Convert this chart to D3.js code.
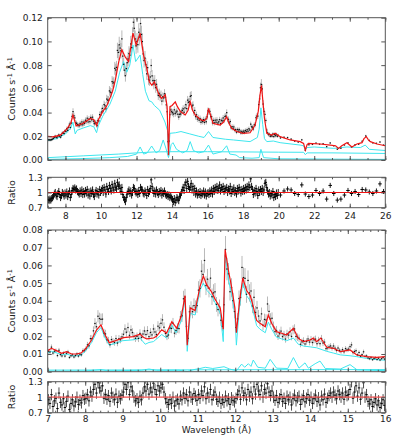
<!DOCTYPE html>
<html>
<head>
<meta charset="utf-8">
<script src="https://cdn.jsdelivr.net/npm/d3@7"></script>
<style>
  body { margin: 0; background: #fff; }
  text { font-family: "DejaVu Sans", sans-serif; fill: #222; }
</style>
</head>
<body>
<svg id="chart" width="399" height="443"></svg>
<script>
// ---- upper spectrum (7-26 A) : model knots [wavelength, counts/s/A]
const model1 = [[7.0,0.020],[7.3,0.0195],[7.7,0.021],[8.07,0.026],[8.3,0.031],[8.42,0.038],[8.6,0.0287],[9.0,0.031],[9.2,0.033],[9.4,0.035],[9.6,0.034],[9.76,0.029],[9.85,0.034],[10.1,0.041],[10.3,0.045],[10.5,0.052],[10.65,0.058],[10.8,0.067],[11.0,0.083],[11.17,0.093],[11.36,0.087],[11.55,0.083],[11.8,0.107],[11.98,0.097],[12.2,0.107],[12.4,0.088],[12.58,0.077],[12.72,0.066],[12.86,0.063],[13.0,0.066],[13.24,0.056],[13.4,0.052],[13.5,0.053],[13.62,0.055],[13.72,0.045],[13.8,0.004],[13.88,0.045],[14.0,0.046],[14.18,0.049],[14.3,0.045],[14.46,0.041],[14.74,0.038],[14.9,0.042],[15.02,0.049],[15.15,0.042],[15.3,0.038],[15.6,0.034],[15.8,0.033],[15.95,0.035],[16.05,0.0436],[16.3,0.031],[16.7,0.0295],[16.9,0.032],[17.07,0.0365],[17.2,0.031],[17.36,0.0267],[17.64,0.024],[18.0,0.0225],[18.39,0.023],[18.67,0.0295],[18.85,0.041],[18.95,0.055],[19.03,0.063],[19.12,0.048],[19.2,0.035],[19.33,0.0225],[19.61,0.021],[19.8,0.0225],[20.08,0.0197],[20.65,0.0169],[21.21,0.0155],[21.4,0.014],[21.5,0.0084],[21.6,0.013],[21.68,0.014],[22.34,0.0135],[22.9,0.0126],[23.2,0.012],[23.37,0.0098],[23.55,0.012],[23.84,0.0146],[24.12,0.011],[24.4,0.0135],[24.69,0.0146],[24.8,0.018],[24.93,0.0197],[25.05,0.017],[25.16,0.0155],[25.53,0.0135],[26.0,0.012]];
const compA1 = [[7.0,0.0165],[7.5,0.018],[8.0,0.022],[8.3,0.027],[8.42,0.032],[8.55,0.022],[8.65,0.025],[9.0,0.027],[9.4,0.029],[9.6,0.028],[9.75,0.023],[9.85,0.029],[10.1,0.037],[10.5,0.047],[10.8,0.058],[11.05,0.074],[11.27,0.083],[11.45,0.074],[11.62,0.080],[11.8,0.097],[11.95,0.083],[12.2,0.0885],[12.35,0.072],[12.5,0.058],[12.7,0.050],[12.86,0.049],[13.0,0.046],[13.3,0.042],[13.6,0.032],[13.74,0.025],[13.8,0.006],[13.88,0.0225],[14.2,0.023],[14.5,0.024],[15.0,0.022],[15.5,0.020],[15.8,0.019],[16.05,0.024],[16.3,0.019],[17.0,0.0175],[17.45,0.0169],[18.39,0.0155],[18.8,0.019],[18.9,0.026],[19.0,0.044],[19.1,0.030],[19.2,0.018],[19.33,0.0155],[19.7,0.016],[20.08,0.0146],[21.2,0.0126],[21.4,0.012],[21.5,0.0084],[21.6,0.0105],[22.0,0.011],[23.1,0.0098],[23.84,0.011],[24.6,0.0105],[24.87,0.0126],[25.1,0.009],[26.0,0.008]];
const compB1 = [[7.0,0.0005],[9.0,0.0012],[10.5,0.002],[11.5,0.003],[12.0,0.005],[12.2,0.011],[12.4,0.005],[12.6,0.006],[12.85,0.0118],[13.1,0.006],[13.3,0.008],[13.5,0.0169],[13.65,0.010],[13.8,0.002],[13.95,0.013],[14.05,0.0146],[14.25,0.009],[14.6,0.006],[14.85,0.008],[15.02,0.0155],[15.2,0.008],[15.5,0.006],[15.8,0.007],[16.05,0.0126],[16.3,0.005],[16.8,0.007],[17.07,0.012],[17.25,0.005],[17.6,0.0042],[17.8,0.002],[18.5,0.0015],[18.9,0.002],[19.0,0.009],[19.15,0.002],[20.0,0.001],[26.0,0.0005]];
const compC1 = [[7.0,0.002],[9.0,0.0035],[11.0,0.005],[12.0,0.006],[13.0,0.0068],[14.0,0.007],[16.0,0.007],[18.0,0.0068],[20.0,0.0066],[21.4,0.0065],[21.5,0.0045],[21.6,0.006],[23.0,0.006],[26.0,0.0055]];

// data/model ratio, fine bins 7.00-20.00 (0.05 A) then coarse bins 20.0-26.0 (0.2 A)
const ratio1Fine = [
  0.86,0.84,0.87,0.85,0.88,0.90,0.93,0.97,1.00,0.95,0.92,0.98,1.02,0.96,0.90,0.94,1.00,0.97,0.93,0.99,
  0.95,1.01,0.92,0.97,1.03,0.90,0.96,1.04,1.08,1.06,1.09,1.05,1.07,1.02,1.00,0.97,1.03,0.98,1.05,0.96,
  1.02,0.97,1.04,0.99,1.06,0.95,1.01,0.93,1.03,0.98,1.05,0.96,0.92,1.00,1.04,0.97,1.02,0.95,1.06,1.00,
  1.04,1.08,1.00,1.10,1.05,0.97,1.12,1.06,1.02,1.14,1.08,1.03,1.16,1.09,1.05,1.18,1.10,1.07,1.20,1.12,
  1.15,1.08,1.02,1.10,0.96,0.90,0.86,0.82,0.90,0.97,1.02,1.05,0.98,1.03,0.95,1.00,1.10,1.08,1.02,0.99,
  1.01,0.96,1.04,0.98,1.10,1.06,1.05,0.99,0.97,1.03,1.00,0.94,1.06,0.98,1.02,1.08,1.25,1.12,1.04,0.98,
  1.03,0.97,1.05,1.00,0.96,1.02,0.99,1.04,0.95,1.01,0.98,1.03,0.97,0.94,0.96,0.92,0.95,0.90,0.93,0.89,
  0.86,0.82,0.88,0.80,0.85,0.90,0.87,0.84,0.92,0.95,1.00,1.05,1.10,1.04,1.15,1.20,1.08,1.22,1.12,1.06,
  1.10,1.18,1.05,1.12,1.00,1.08,0.97,1.03,0.95,1.00,0.96,1.02,0.94,0.99,0.97,1.03,0.95,1.01,0.93,0.98,
  1.00,0.96,1.03,0.98,1.05,0.97,1.08,1.02,1.10,1.05,1.12,1.04,1.08,1.15,1.03,1.10,1.06,1.12,1.02,1.08,
  1.05,1.10,1.00,1.07,1.03,1.12,0.98,1.06,1.02,1.09,1.00,1.04,0.97,1.08,1.03,1.10,1.05,0.99,1.06,1.02,
  1.08,1.03,1.10,1.05,1.12,1.06,1.15,1.10,1.27,1.12,1.06,0.96,1.04,0.99,1.08,1.02,0.94,1.05,1.00,1.06,
  1.02,1.08,1.00,1.05,1.18,1.20,1.10,1.03,0.97,1.00,0.93,0.98,0.95,1.02,0.90,0.96,0.92,0.99,0.94,1.00];
const ratio1Coarse = [0.95,1.03,1.07,1.05,0.98,0.96,1.15,0.97,0.92,0.95,1.04,0.98,1.03,0.87,1.14,0.98,0.85,0.87,0.95,1.04,0.98,1.02,0.96,1.06,1.05,1.01,0.98,1.03,1.17,1.02];

// ---- lower spectrum (7-16 A)
const model3 = [[7.0,0.0119],[7.1,0.0132],[7.24,0.0119],[7.37,0.0104],[7.5,0.0113],[7.64,0.0100],[7.77,0.0100],[7.9,0.0107],[8.02,0.0132],[8.17,0.0179],[8.3,0.0235],[8.42,0.0264],[8.53,0.0207],[8.64,0.0164],[8.8,0.0175],[9.02,0.0192],[9.28,0.0198],[9.46,0.0212],[9.55,0.0195],[9.64,0.0185],[9.82,0.019],[9.9,0.020],[10.04,0.0237],[10.17,0.0218],[10.31,0.0282],[10.44,0.0245],[10.57,0.032],[10.66,0.043],[10.72,0.015],[10.8,0.036],[10.93,0.0345],[11.06,0.048],[11.15,0.054],[11.24,0.049],[11.37,0.045],[11.46,0.041],[11.6,0.036],[11.68,0.024],[11.73,0.069],[11.82,0.057],[11.9,0.048],[11.99,0.036],[12.03,0.022],[12.11,0.039],[12.2,0.053],[12.3,0.046],[12.4,0.043],[12.48,0.0367],[12.57,0.029],[12.66,0.0273],[12.8,0.0254],[12.88,0.032],[12.97,0.0273],[13.1,0.0226],[13.24,0.0217],[13.37,0.0207],[13.55,0.0245],[13.68,0.0188],[13.82,0.017],[14.0,0.0179],[14.08,0.019],[14.17,0.017],[14.28,0.019],[14.44,0.0138],[14.62,0.0132],[14.8,0.0113],[15.06,0.0123],[15.24,0.0094],[15.5,0.0085],[15.77,0.0081],[16.0,0.0085]];
const compA3 = [[7.0,0.0105],[7.1,0.0115],[7.25,0.0105],[7.4,0.0095],[7.5,0.010],[7.65,0.009],[7.8,0.009],[7.9,0.0095],[8.02,0.012],[8.17,0.0165],[8.3,0.022],[8.42,0.025],[8.53,0.019],[8.64,0.015],[8.8,0.016],[9.0,0.0175],[9.28,0.018],[9.46,0.019],[9.6,0.0155],[9.7,0.0165],[9.82,0.017],[10.04,0.021],[10.17,0.019],[10.3,0.0265],[10.42,0.022],[10.57,0.029],[10.66,0.041],[10.72,0.0115],[10.8,0.033],[10.93,0.032],[11.06,0.046],[11.15,0.050],[11.24,0.046],[11.37,0.043],[11.46,0.039],[11.6,0.033],[11.68,0.017],[11.73,0.066],[11.82,0.052],[11.9,0.044],[11.99,0.032],[12.03,0.015],[12.11,0.036],[12.2,0.050],[12.3,0.043],[12.4,0.040],[12.48,0.034],[12.57,0.026],[12.66,0.024],[12.8,0.022],[12.88,0.028],[12.97,0.024],[13.1,0.0195],[13.24,0.0185],[13.37,0.0175],[13.55,0.019],[13.68,0.0155],[13.82,0.0145],[14.0,0.014],[14.17,0.0135],[14.44,0.0115],[14.62,0.0105],[14.8,0.0095],[15.06,0.009],[15.24,0.0085],[15.5,0.0075],[15.77,0.0068],[16.0,0.0065]];
const compB3 = [[7.0,0.0003],[8.0,0.0004],[8.42,0.0012],[8.6,0.0005],[9.5,0.0008],[9.7,0.0015],[9.9,0.0008],[10.5,0.0008],[10.72,0.0002],[10.9,0.0012],[11.06,0.0018],[11.2,0.0025],[11.4,0.0018],[11.7,0.0028],[11.85,0.0015],[12.03,0.0005],[12.17,0.0043],[12.25,0.0025],[12.35,0.0045],[12.42,0.003],[12.48,0.0066],[12.6,0.0025],[12.8,0.002],[12.93,0.007],[13.1,0.002],[13.4,0.0018],[13.55,0.008],[13.7,0.002],[13.86,0.005],[13.95,0.002],[14.13,0.0045],[14.26,0.006],[14.4,0.0018],[14.8,0.0015],[15.06,0.004],[15.25,0.001],[16.0,0.0006]];
const compC3 = [[7.0,0.0009],[12.0,0.0011],[16.0,0.0012]];

// data/model ratio, 0.04 A bins 7.00-16.00
const ratio3 = [
  0.95,0.88,1.05,0.82,0.93,0.98,0.78,1.08,0.90,0.85,0.97,0.80,0.92,1.02,0.76,0.88,0.95,0.83,0.91,1.00,0.86,0.94,0.89,1.03,0.96,
  0.98,1.05,0.93,1.10,1.02,1.15,1.25,1.08,1.28,1.18,1.12,1.22,0.98,1.05,0.96,1.03,0.92,1.08,1.00,0.95,1.06,0.90,1.02,0.97,1.04,
  1.10,1.25,1.15,1.28,1.05,1.20,1.12,1.00,0.93,0.97,0.90,1.02,0.95,1.08,1.20,1.12,1.25,1.06,1.18,1.10,1.27,1.15,1.05,1.22,1.12,
  1.18,1.25,1.10,0.97,0.90,0.86,0.95,0.88,1.00,0.83,0.93,0.96,0.87,1.02,0.95,1.08,0.98,1.05,0.93,1.10,1.00,0.96,1.07,1.02,0.94,
  1.05,0.98,1.12,1.03,1.20,0.97,1.08,1.00,1.15,0.95,1.04,1.10,0.96,0.92,1.00,0.88,0.95,0.90,1.02,0.93,0.97,0.86,0.99,0.94,0.91,
  0.98,1.05,1.12,0.96,1.18,1.03,1.08,0.95,1.15,1.02,1.10,0.97,1.20,1.06,1.25,1.12,1.05,1.22,1.00,1.15,1.08,1.26,1.10,1.03,1.12,
  1.00,0.94,1.03,0.90,0.97,1.05,0.92,0.98,0.88,1.02,0.95,1.00,0.85,0.97,1.04,0.93,0.99,1.02,0.86,0.96,1.03,0.91,0.98,1.05,0.94,
  1.00,0.88,0.97,1.04,0.92,0.99,0.85,1.02,0.95,1.06,0.90,0.98,1.03,1.08,1.00,1.10,1.04,0.97,1.12,1.05,1.00,1.08,0.96,1.10,1.03,
  1.05,1.15,1.30,0.98,1.10,1.22,1.02,1.18,0.96,1.08,1.28,1.00,1.05,0.92,0.87,0.95,0.82,0.90,0.97,0.85,0.93,0.80,0.88,0.95,0.84];

const ratioTicks = [0.7, 1, 1.3];
const RED = "#f01414", CYAN = "#3ee6ee";

const svg = d3.select("#chart");
const L = 47.7, R = 385.3;

const x1 = d3.scaleLinear().domain([7, 26]).range([L, R]);
const yC1 = d3.scaleLinear().domain([0, 0.12]).range([160, 17.7]);
const yR2 = d3.scaleLinear().domain([0.7, 1.3]).range([207.7, 177.3]);
const x3 = d3.scaleLinear().domain([7, 16]).range([L, R]);
const yC3 = d3.scaleLinear().domain([0, 0.08]).range([371.7, 230]);
const yR4 = d3.scaleLinear().domain([0.7, 1.3]).range([412.7, 381.7]);

// piecewise model as a scale, so data = ratio * model
function knotScale(knots) {
  return d3.scaleLinear().domain(knots.map(d => d[0])).range(knots.map(d => d[1])).clamp(true);
}
function bins(ratios, start, step, model, err) {
  return ratios.map((r, i) => {
    const lam = start + step * (i + 0.5);
    return { lam: lam, half: step / 2, r: r, c: r * model(lam), e: err };
  });
}
const m1 = knotScale(model1), m3 = knotScale(model3);
const pts1 = bins(ratio1Fine, 7, 0.05, m1, 0.07).concat(bins(ratio1Coarse, 20, 0.2, m1, 0.05));
const pts3 = bins(ratio3, 7, 0.04, m3, 0.11);

let clipN = 0;
function clip(x, y) {
  const id = "clip" + (clipN++);
  svg.append("clipPath").attr("id", id).append("rect")
    .attr("x", x.range()[0]).attr("y", y.range()[1])
    .attr("width", x.range()[1] - x.range()[0]).attr("height", y.range()[0] - y.range()[1]);
  return "url(#" + id + ")";
}

function frame(x, y, o) {
  const g = svg.append("g");
  const y0 = y.range()[0], y1 = y.range()[1];
  g.append("g").attr("transform", `translate(0,${y0})`)
    .call(d3.axisBottom(x).tickValues(o.xMajor).tickSize(-4).tickPadding(o.xPad || 4)
      .tickFormat(o.xLabels ? d3.format("d") : ""));
  g.append("g").attr("transform", `translate(0,${y0})`)
    .call(d3.axisBottom(x).tickValues(o.xMinor).tickSize(-2).tickFormat(""));
  g.append("g").attr("transform", `translate(0,${y1})`)
    .call(d3.axisTop(x).tickValues(o.xMajor).tickSize(-4).tickFormat(""));
  g.append("g").attr("transform", `translate(0,${y1})`)
    .call(d3.axisTop(x).tickValues(o.xMinor).tickSize(-2).tickFormat(""));
  g.append("g").attr("transform", `translate(${L},0)`)
    .call(d3.axisLeft(y).tickValues(o.yMajor).tickSize(-4).tickPadding(5).tickFormat(o.yFmt));
  g.append("g").attr("transform", `translate(${R},0)`)
    .call(d3.axisRight(y).tickValues(o.yMajor).tickSize(-4).tickFormat(""));
  g.selectAll(".domain").remove();
  g.selectAll(".tick line").attr("stroke", "#555");
  g.selectAll(".tick text").attr("font-size", 9).attr("font-family", "DejaVu Sans").attr("fill", "#222");
  g.append("rect").attr("x", L).attr("y", y1).attr("width", R - L).attr("height", y0 - y1)
    .attr("fill", "none").attr("stroke", "#555").attr("stroke-width", 1);
}

function countsPanel(x, y, pts, model, comps) {
  const g = svg.append("g").attr("clip-path", clip(x, y));
  g.selectAll("line.err").data(pts).enter().append("line")
    .attr("x1", d => x(d.lam)).attr("x2", d => x(d.lam))
    .attr("y1", d => y(d.c * (1 - d.e))).attr("y2", d => y(d.c * (1 + d.e)))
    .attr("stroke", "#8a8a8a").attr("stroke-opacity", 0.6).attr("stroke-width", 1);
  const line = d3.line().x(d => x(d[0])).y(d => y(d[1]));
  comps.forEach(c => g.append("path").attr("d", line(c)).attr("fill", "none")
    .attr("stroke", CYAN).attr("stroke-width", 1));
  g.selectAll("rect.pt").data(pts).enter().append("rect")
    .attr("x", d => x(d.lam) - 0.7).attr("y", d => y(d.c) - 0.6)
    .attr("width", 1.4).attr("height", 1.2).attr("fill", "#111");
  g.append("path").attr("d", line(model)).attr("fill", "none")
    .attr("stroke", RED).attr("stroke-width", 1.2);
}

function ratioPanel(x, y, pts, lineColor, barColor, barOpacity) {
  const g = svg.append("g").attr("clip-path", clip(x, y));
  g.selectAll("line.v").data(pts).enter().append("line")
    .attr("x1", d => x(d.lam)).attr("x2", d => x(d.lam))
    .attr("y1", d => y(d.r - d.e)).attr("y2", d => y(d.r + d.e))
    .attr("stroke", barColor).attr("stroke-width", 1).attr("stroke-opacity", barOpacity);
  g.selectAll("line.h").data(pts).enter().append("line")
    .attr("x1", d => Math.min(x(d.lam - d.half), x(d.lam) - 1.2))
    .attr("x2", d => Math.max(x(d.lam + d.half), x(d.lam) + 1.2))
    .attr("y1", d => y(d.r)).attr("y2", d => y(d.r))
    .attr("stroke", "#000").attr("stroke-width", 1);
  g.append("line").attr("x1", L).attr("x2", R).attr("y1", y(1)).attr("y2", y(1))
    .attr("stroke", lineColor).attr("stroke-width", 1.2);
}

function yTitle(yc, counts) {
  const t = svg.append("text").attr("transform", `translate(15,${yc}) rotate(-90)`)
    .attr("text-anchor", "middle").attr("font-size", 9.5);
  if (!counts) { t.text("Ratio"); return; }
  t.append("tspan").text("Counts s");
  t.append("tspan").attr("dy", -3.5).attr("font-size", 6.5).text("-1");
  t.append("tspan").attr("dy", 3.5).text(" Å");
  t.append("tspan").attr("dy", -3.5).attr("font-size", 6.5).text("-1");
}

const fmtRatio = d => d === 1 ? "1" : d3.format(".1f")(d);

// upper pair
countsPanel(x1, yC1, pts1, model1, [compC1, compB1, compA1]);
frame(x1, yC1, { xMajor: d3.range(8, 27, 2), xMinor: d3.range(7, 27, 1), xLabels: false,
  yMajor: d3.range(0, 0.121, 0.02), yFmt: d3.format(".2f") });
ratioPanel(x1, yR2, pts1, RED, "#000", 0.9);
frame(x1, yR2, { xMajor: d3.range(8, 27, 2), xMinor: d3.range(7, 27, 1), xLabels: true, xPad: 5,
  yMajor: ratioTicks, yFmt: fmtRatio });

// lower pair
countsPanel(x3, yC3, pts3, model3, [compC3, compB3, compA3]);
frame(x3, yC3, { xMajor: d3.range(7, 17, 1), xMinor: d3.range(7, 16.01, 0.2), xLabels: false,
  yMajor: d3.range(0, 0.0801, 0.01), yFmt: d3.format(".2f") });
ratioPanel(x3, yR4, pts3, "#f45050", "#222", 0.8);
frame(x3, yR4, { xMajor: d3.range(7, 17, 1), xMinor: d3.range(7, 16.01, 0.2), xLabels: true, xPad: 3,
  yMajor: ratioTicks, yFmt: fmtRatio });

yTitle(89, true);
yTitle(192.5, false);
yTitle(301, true);
yTitle(397, false);
svg.append("text").attr("x", (L + R) / 2).attr("y", 433).attr("text-anchor", "middle")
  .attr("font-size", 9).text("Wavelength (Å)");
</script>
</body>
</html>
